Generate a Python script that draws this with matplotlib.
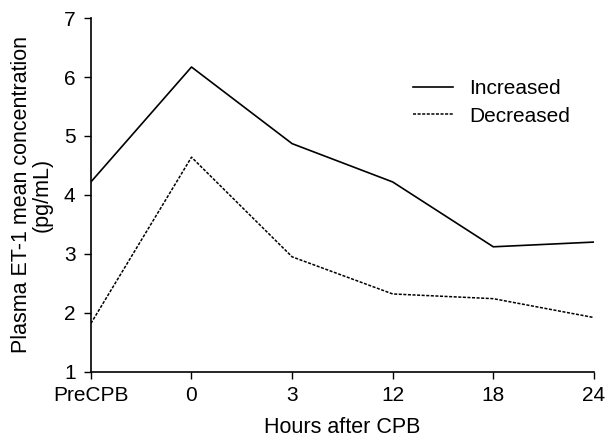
import matplotlib
matplotlib.use("Agg")
import matplotlib.pyplot as plt

categories = ["PreCPB", "0", "3", "12", "18", "24"]
increased = [4.22, 6.17, 4.87, 4.22, 3.12, 3.20]
decreased = [1.82, 4.64, 2.95, 2.32, 2.24, 1.92]
yticks = [1, 2, 3, 4, 5, 6, 7]

plt.rcParams['font.family'] = ['Liberation Sans', 'DejaVu Sans']

fig = plt.figure(figsize=(6.06, 4.41), dpi=100)
ax = fig.add_axes([0.150, 0.157, 0.830, 0.802])

x = list(range(len(categories)))
ax.plot(x, increased, color='black', lw=1.2, label='Increased')
ax.plot(x, decreased, color='black', lw=1.1, linestyle=(0, (2, 1)), label='Decreased')

ax.set_xlim(0, len(categories) - 1)
ax.set_ylim(1, 7)
ax.set_xticks(x)
ax.set_xticklabels(categories)
ax.set_yticks(yticks)
ax.tick_params(labelsize=15, direction='out', length=5, width=1)
ax.tick_params(axis='y', pad=6)
ax.tick_params(axis='x', pad=5)
for s in ['top', 'right']:
    ax.spines[s].set_visible(False)
for s in ['left', 'bottom']:
    ax.spines[s].set_linewidth(1.2)

ax.set_xlabel('Hours after CPB', fontsize=15.5, labelpad=9)
ax.set_ylabel('Plasma ET-1 mean concentration\n(pg/mL)', fontsize=15.5, labelpad=8,
              linespacing=1.0)

ax.legend(loc='upper left', bbox_to_anchor=(413 / 606, 1 - 79 / 441),
          bbox_transform=fig.transFigure, frameon=False, fontsize=15,
          handlelength=1.9, handletextpad=0.8, labelspacing=0.42,
          borderpad=0, borderaxespad=0)

fig.savefig('out.png', dpi=100)
